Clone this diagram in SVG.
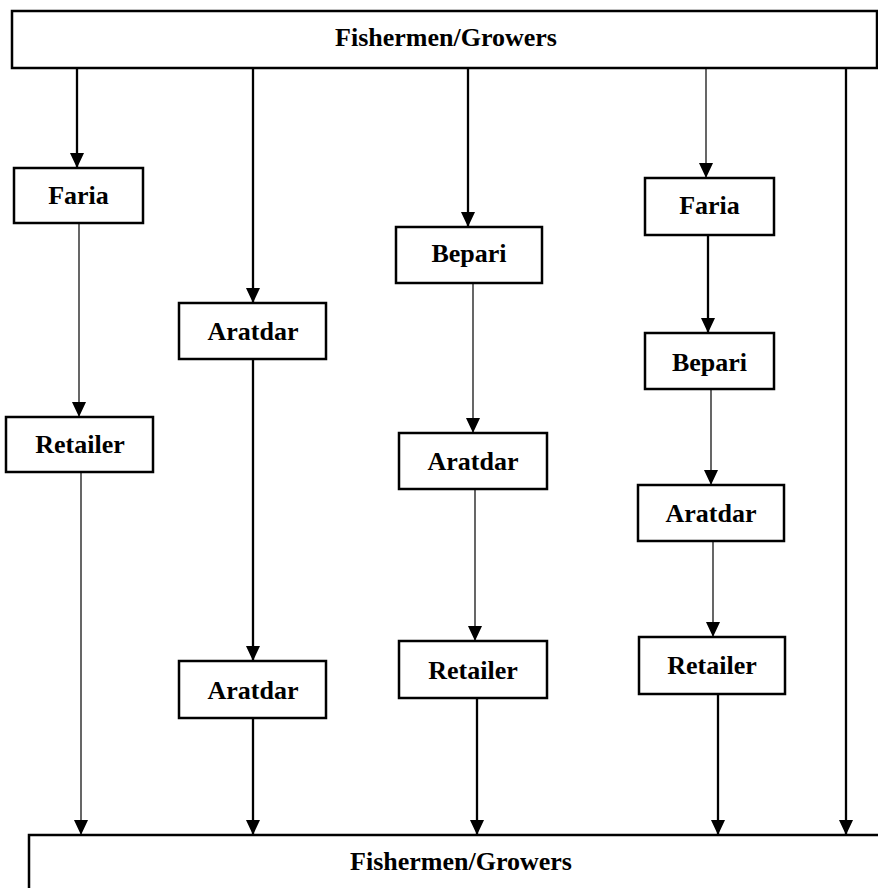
<svg xmlns="http://www.w3.org/2000/svg" width="878" height="888" viewBox="0 0 878 888">
<defs>
<style>
.box{fill:#fff;stroke:#000;stroke-width:2.5}
.lbl{font-family:"Liberation Serif","Times New Roman",serif;font-weight:bold;font-size:26px;text-anchor:middle;fill:#000}
.thick{stroke:#000;stroke-width:2.3;fill:none}
.thin{stroke:#000;stroke-width:1.2;fill:none}
</style>
<marker id="ah" markerUnits="userSpaceOnUse" viewBox="0 0 15 14" refX="15" refY="7" markerWidth="15" markerHeight="14" orient="auto">
<path d="M0,0 L15,7 L0,14 z" fill="#000"/>
</marker>
</defs>
<rect width="878" height="888" fill="#fff"/>
<g id="connectors">
<line class="thick" x1="77" y1="68" x2="77" y2="168" marker-end="url(#ah)"/>
<line class="thin" x1="79" y1="223" x2="79" y2="417" marker-end="url(#ah)"/>
<line class="thin" x1="81" y1="472" x2="81" y2="835" marker-end="url(#ah)"/>
<line class="thick" x1="253" y1="68" x2="253" y2="303" marker-end="url(#ah)"/>
<line class="thick" x1="253" y1="359" x2="253" y2="661" marker-end="url(#ah)"/>
<line class="thick" x1="253" y1="718" x2="253" y2="835" marker-end="url(#ah)"/>
<line class="thick" x1="468" y1="68" x2="468" y2="227" marker-end="url(#ah)"/>
<line class="thin" x1="473" y1="283" x2="473" y2="433" marker-end="url(#ah)"/>
<line class="thin" x1="475" y1="489" x2="475" y2="641" marker-end="url(#ah)"/>
<line class="thick" x1="477" y1="698" x2="477" y2="835" marker-end="url(#ah)"/>
<line class="thin" x1="706" y1="68" x2="706" y2="178" marker-end="url(#ah)"/>
<line class="thick" x1="708" y1="235" x2="708" y2="333" marker-end="url(#ah)"/>
<line class="thin" x1="711" y1="389" x2="711" y2="485" marker-end="url(#ah)"/>
<line class="thin" x1="713" y1="541" x2="713" y2="637" marker-end="url(#ah)"/>
<line class="thick" x1="718" y1="694" x2="718" y2="835" marker-end="url(#ah)"/>
<line class="thick" x1="846" y1="68" x2="846" y2="835" marker-end="url(#ah)"/>
</g>
<g id="top-growers"><rect class="box" x="12" y="11" width="865" height="57"/><text class="lbl" x="446" y="46">Fishermen/Growers</text></g>
<g id="faria1"><rect class="box" x="14" y="168" width="129" height="55"/><text class="lbl" x="78.5" y="204">Faria</text></g>
<g id="retailer1"><rect class="box" x="6" y="417" width="147" height="55"/><text class="lbl" x="80" y="453">Retailer</text></g>
<g id="aratdar1"><rect class="box" x="179" y="303" width="147" height="56"/><text class="lbl" x="253" y="340">Aratdar</text></g>
<g id="aratdar2"><rect class="box" x="179" y="661" width="147" height="57"/><text class="lbl" x="253" y="699">Aratdar</text></g>
<g id="bepari1"><rect class="box" x="396" y="227" width="146" height="56"/><text class="lbl" x="469" y="262">Bepari</text></g>
<g id="aratdar3"><rect class="box" x="399" y="433" width="148" height="56"/><text class="lbl" x="473" y="470">Aratdar</text></g>
<g id="retailer3"><rect class="box" x="399" y="641" width="148" height="57"/><text class="lbl" x="473" y="679">Retailer</text></g>
<g id="faria2"><rect class="box" x="645" y="178" width="129" height="57"/><text class="lbl" x="709.5" y="214">Faria</text></g>
<g id="bepari2"><rect class="box" x="645" y="333" width="129" height="56"/><text class="lbl" x="709.5" y="371">Bepari</text></g>
<g id="aratdar4"><rect class="box" x="638" y="485" width="146" height="56"/><text class="lbl" x="711" y="522">Aratdar</text></g>
<g id="retailer4"><rect class="box" x="639" y="637" width="146" height="57"/><text class="lbl" x="712" y="674">Retailer</text></g>
<g id="bottom-growers"><rect class="box" x="29" y="835" width="870" height="80"/><text class="lbl" x="461" y="870">Fishermen/Growers</text></g>
</svg>
